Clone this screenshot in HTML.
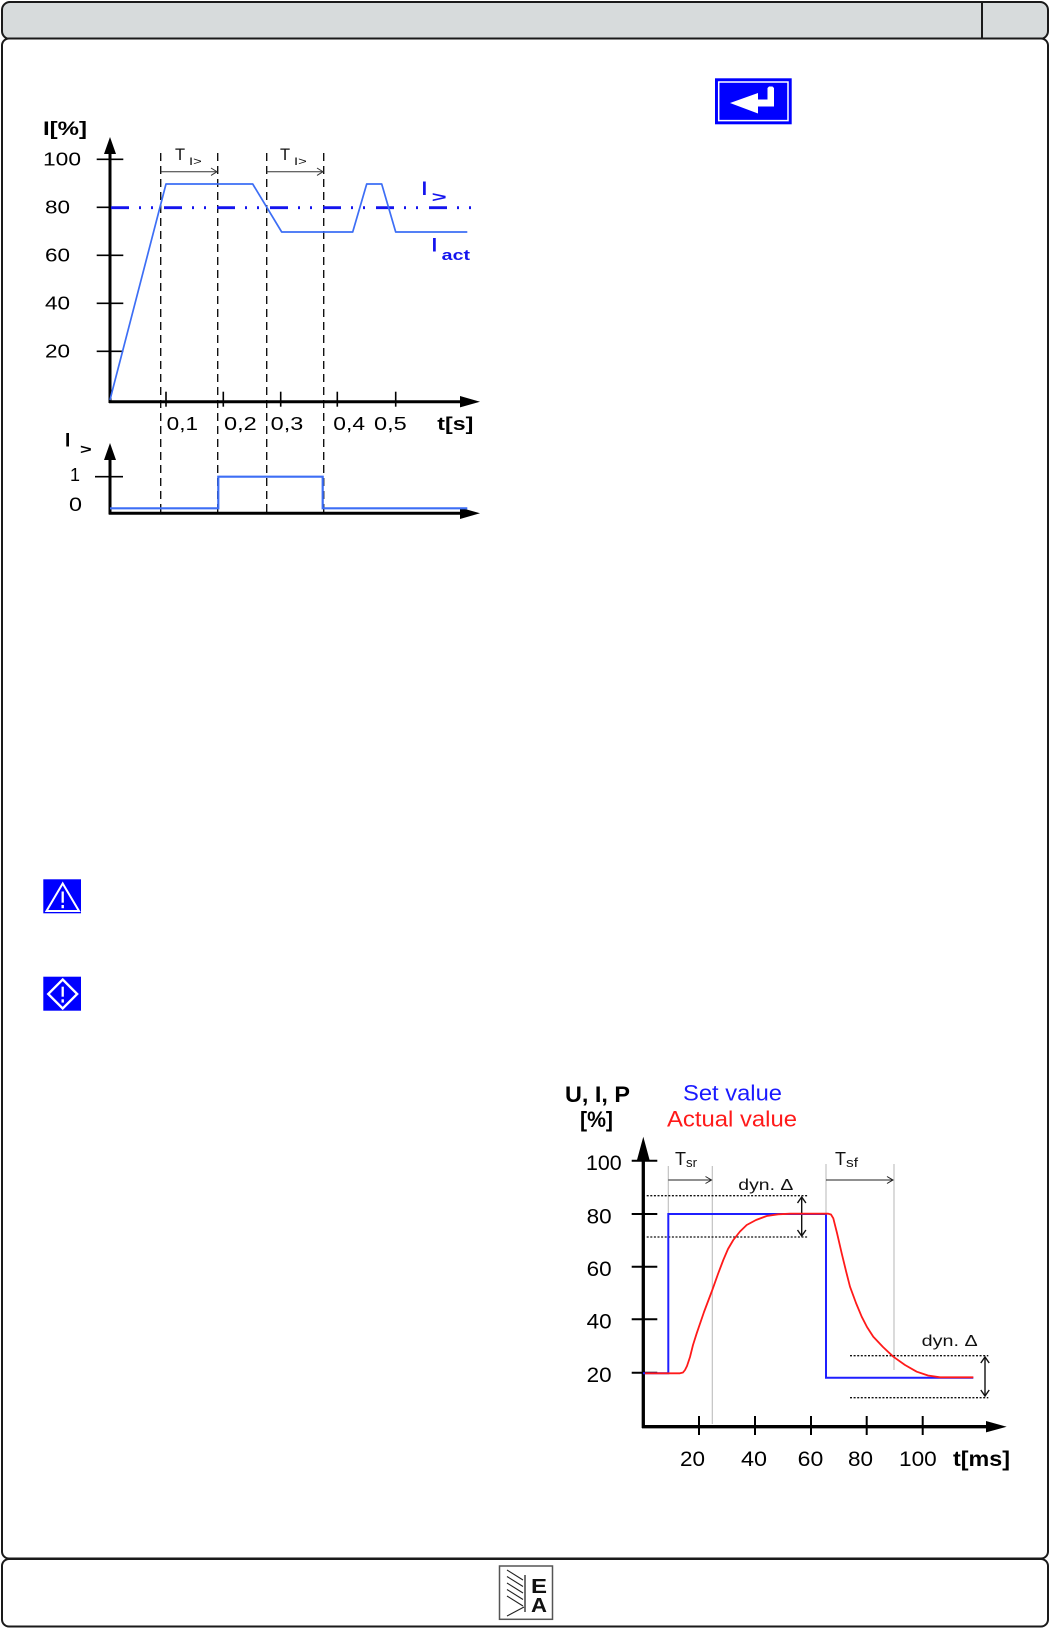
<!DOCTYPE html>
<html>
<head>
<meta charset="utf-8">
<style>
html,body{margin:0;padding:0;background:#fff;}
svg{display:block;}
text{font-family:"Liberation Sans",Arial,sans-serif;}
</style>
</head>
<body>
<svg width="1050" height="1628" viewBox="0 0 1050 1628" xmlns="http://www.w3.org/2000/svg">
  <!-- Frame -->
  <rect x="2" y="2" width="1046" height="37" rx="8" ry="8" fill="#d7dbdc" stroke="#1a1a1a" stroke-width="2"/>
  <line x1="982" y1="2" x2="982" y2="38" stroke="#1a1a1a" stroke-width="2"/>
  <rect x="2" y="38.5" width="1046" height="1520" rx="7" ry="7" fill="#fff" stroke="#1a1a1a" stroke-width="2"/>
  <rect x="2" y="1559" width="1046" height="67.5" rx="7" ry="7" fill="#fff" stroke="#1a1a1a" stroke-width="2"/>

  <!-- Enter icon -->
  <rect x="715" y="78.3" width="76.7" height="46" fill="#0000ff"/>
  <rect x="718.7" y="82" width="69.3" height="38.6" fill="none" stroke="#fff" stroke-width="1.5"/>
  <polygon points="730,103 758,93 758,99.5 767.5,99.5 767.5,88 769,86.5 772.5,86.5 774,88 774,106.5 758,106.5 758,113.5" fill="#fff"/>

  <!-- ============ Chart 1 ============ -->
  <g stroke="#111" stroke-width="1.4" stroke-dasharray="8 5">
    <line x1="160.7" y1="153" x2="160.7" y2="513"/>
    <line x1="217.7" y1="153" x2="217.7" y2="513"/>
    <line x1="266.7" y1="153" x2="266.7" y2="513"/>
    <line x1="323.7" y1="153" x2="323.7" y2="513"/>
  </g>
  <g stroke="#333" stroke-width="1" fill="none">
    <line x1="160.7" y1="171.7" x2="217" y2="171.7"/>
    <polyline points="211,168 217,171.7 211,175.4"/>
    <line x1="266.7" y1="171.7" x2="323" y2="171.7"/>
    <polyline points="317,168 323,171.7 317,175.4"/>
  </g>
  <text x="175" y="160" font-size="16.5" fill="#111">T</text>
  <text x="189" y="165" font-size="11" fill="#111" textLength="12.7" lengthAdjust="spacingAndGlyphs">I&gt;</text>
  <text x="280" y="160" font-size="16.5" fill="#111">T</text>
  <text x="294" y="165" font-size="11" fill="#111" textLength="12.7" lengthAdjust="spacingAndGlyphs">I&gt;</text>

  <g stroke="#000" stroke-width="3">
    <line x1="110" y1="152" x2="110" y2="403"/>
    <line x1="109" y1="401.7" x2="462" y2="401.7"/>
    <line x1="110" y1="458" x2="110" y2="514.5"/>
    <line x1="109" y1="513.3" x2="462" y2="513.3"/>
  </g>
  <polygon points="110,137 104,154 116,154" fill="#000"/>
  <polygon points="480,401.7 460,396 460,407.4" fill="#000"/>
  <polygon points="110,443 104,460 116,460" fill="#000"/>
  <polygon points="480,513.3 460,507.6 460,519" fill="#000"/>
  <g stroke="#000" stroke-width="1.6">
    <line x1="96.7" y1="159.3" x2="123.3" y2="159.3"/>
    <line x1="96.7" y1="207.3" x2="123.3" y2="207.3"/>
    <line x1="96.7" y1="255.3" x2="123.3" y2="255.3"/>
    <line x1="96.7" y1="303.3" x2="123.3" y2="303.3"/>
    <line x1="96.7" y1="351.3" x2="123.3" y2="351.3"/>
    <line x1="166" y1="391.7" x2="166" y2="406.7"/>
    <line x1="223.3" y1="391.7" x2="223.3" y2="406.7"/>
    <line x1="280.7" y1="391.7" x2="280.7" y2="406.7"/>
    <line x1="337.3" y1="391.7" x2="337.3" y2="406.7"/>
    <line x1="395.7" y1="391.7" x2="395.7" y2="406.7"/>
    <line x1="95" y1="476.7" x2="123" y2="476.7"/>
  </g>
  <g font-size="18.5" fill="#000">
    <text x="43" y="135" font-weight="bold" font-size="19" textLength="44" lengthAdjust="spacingAndGlyphs">I[%]</text>
    <text x="43" y="165.3" textLength="38" lengthAdjust="spacingAndGlyphs">100</text>
    <text x="45" y="213.3" textLength="25" lengthAdjust="spacingAndGlyphs">80</text>
    <text x="45" y="261.3" textLength="25" lengthAdjust="spacingAndGlyphs">60</text>
    <text x="45" y="309.3" textLength="25" lengthAdjust="spacingAndGlyphs">40</text>
    <text x="45" y="357.3" textLength="25" lengthAdjust="spacingAndGlyphs">20</text>
    <text x="166.7" y="430" textLength="31.3" lengthAdjust="spacingAndGlyphs">0,1</text>
    <text x="224" y="430" textLength="32.7" lengthAdjust="spacingAndGlyphs">0,2</text>
    <text x="270.7" y="430" textLength="32.6" lengthAdjust="spacingAndGlyphs">0,3</text>
    <text x="333.3" y="430" textLength="31.7" lengthAdjust="spacingAndGlyphs">0,4</text>
    <text x="374" y="430" textLength="32.7" lengthAdjust="spacingAndGlyphs">0,5</text>
    <text x="437.3" y="430" font-weight="bold" textLength="36" lengthAdjust="spacingAndGlyphs">t[s]</text>
    <text x="70" y="481" textLength="10" lengthAdjust="spacingAndGlyphs">1</text>
    <text x="69" y="511" font-size="19" textLength="13" lengthAdjust="spacingAndGlyphs">0</text>
    <text x="65" y="446.7" font-weight="bold" font-size="19">I</text>
    <text x="80" y="454" font-weight="bold" font-size="14" textLength="11.7" lengthAdjust="spacingAndGlyphs">&gt;</text>
  </g>

  <line x1="111" y1="207.7" x2="475" y2="207.7" stroke="#1414ee" stroke-width="2.8" stroke-dasharray="18 10 2 10 2 11"/>
  <polyline points="110,400 112,392 166,184 252.7,184 281.7,232 352.7,232 366.7,184 381.7,184 395.7,232 467.3,232" fill="none" stroke="#3d6ef5" stroke-width="1.7" stroke-linejoin="round"/>
  <polyline points="110,508.3 218.3,508.3 218.3,476.7 322.7,476.7 322.7,508.3 467.3,508.3" fill="none" stroke="#3d6ef5" stroke-width="2.2"/>
  <text x="421.7" y="195" font-weight="bold" font-size="19" fill="#1414ee">I</text>
  <text x="431.7" y="202" font-weight="bold" font-size="15" fill="#1414ee" textLength="15" lengthAdjust="spacingAndGlyphs">&gt;</text>
  <text x="431.7" y="251.7" font-weight="bold" font-size="19" fill="#1414ee">I</text>
  <text x="441.7" y="260" font-weight="bold" font-size="15" fill="#1414ee" textLength="28.3" lengthAdjust="spacingAndGlyphs">act</text>

  <!-- Warning icons -->
  <rect x="43.3" y="879.3" width="37.7" height="34" fill="#0000ff"/>
  <polygon points="62.7,883.5 46.5,911 79,911" fill="none" stroke="#fff" stroke-width="2"/>
  <line x1="62.7" y1="891.5" x2="62.7" y2="902.7" stroke="#fff" stroke-width="2.3"/>
  <rect x="61.5" y="905" width="2.4" height="3.2" fill="#fff"/>

  <rect x="43.3" y="976.7" width="37.7" height="34" fill="#0000ff"/>
  <polygon points="62.7,979.5 77.2,994 62.7,1008.5 48.2,994" fill="none" stroke="#fff" stroke-width="2.3"/>
  <line x1="62.7" y1="986.7" x2="62.7" y2="996.7" stroke="#fff" stroke-width="2.3"/>
  <rect x="61.5" y="999.3" width="2.4" height="3.3" fill="#fff"/>

  <!-- ============ Chart 2 ============ -->
  <text x="565" y="1102" font-weight="bold" font-size="22" textLength="65" lengthAdjust="spacingAndGlyphs">U, I, P</text>
  <text x="580" y="1127" font-weight="bold" font-size="22" textLength="33" lengthAdjust="spacingAndGlyphs">[%]</text>
  <text x="683" y="1100.7" font-size="22" fill="#1a1aff" textLength="99" lengthAdjust="spacingAndGlyphs">Set value</text>
  <text x="667" y="1126.7" font-size="22" fill="#ff1a1a" textLength="130" lengthAdjust="spacingAndGlyphs">Actual value</text>

  <g stroke="#bdbdbd" stroke-width="1.1">
    <line x1="668.3" y1="1166" x2="668.3" y2="1214"/>
    <line x1="712.3" y1="1166" x2="712.3" y2="1424"/>
    <line x1="826" y1="1164" x2="826" y2="1214"/>
    <line x1="894" y1="1164" x2="894" y2="1370"/>
  </g>
  <g stroke="#222" stroke-width="1" fill="none">
    <line x1="668.3" y1="1180" x2="711.5" y2="1180"/>
    <polyline points="705.5,1176.5 711.5,1180 705.5,1183.5"/>
    <line x1="826" y1="1180" x2="893" y2="1180"/>
    <polyline points="887,1176.5 893,1180 887,1183.5"/>
  </g>
  <text x="675" y="1165" font-size="18" fill="#111">T</text>
  <text x="686" y="1167" font-size="13" fill="#111" textLength="11" lengthAdjust="spacingAndGlyphs">sr</text>
  <text x="835" y="1165" font-size="18" fill="#111">T</text>
  <text x="846" y="1167" font-size="13" fill="#111" textLength="12" lengthAdjust="spacingAndGlyphs">sf</text>
  <text x="738.3" y="1190" font-size="16" fill="#111" textLength="55" lengthAdjust="spacingAndGlyphs">dyn. Δ</text>
  <text x="921.7" y="1346" font-size="16" fill="#111" textLength="56" lengthAdjust="spacingAndGlyphs">dyn. Δ</text>

  <g stroke="#111" stroke-width="1.3" stroke-dasharray="2 1.6">
    <line x1="646.7" y1="1195.7" x2="808.3" y2="1195.7"/>
    <line x1="646.7" y1="1237" x2="808.3" y2="1237"/>
    <line x1="850" y1="1355.7" x2="988.3" y2="1355.7"/>
    <line x1="850" y1="1397.7" x2="988.3" y2="1397.7"/>
  </g>
  <g stroke="#111" stroke-width="1.4" fill="none">
    <line x1="801.7" y1="1197" x2="801.7" y2="1236"/>
    <polyline points="797.5,1203 801.7,1197 805.9,1203"/>
    <polyline points="797.5,1230 801.7,1236 805.9,1230"/>
    <line x1="985" y1="1357" x2="985" y2="1396"/>
    <polyline points="980.8,1363 985,1357 989.2,1363"/>
    <polyline points="980.8,1390 985,1396 989.2,1390"/>
  </g>

  <g stroke="#000" stroke-width="3.3">
    <line x1="643.3" y1="1158" x2="643.3" y2="1428"/>
    <line x1="642" y1="1426.7" x2="988" y2="1426.7"/>
  </g>
  <polygon points="643.3,1136.7 637,1160 649.6,1160" fill="#000"/>
  <polygon points="1006.7,1426.7 986,1421 986,1432.4" fill="#000"/>
  <g stroke="#000" stroke-width="2">
    <line x1="631.7" y1="1160.7" x2="657.3" y2="1160.7"/>
    <line x1="631.7" y1="1214" x2="657.3" y2="1214"/>
    <line x1="631.7" y1="1266.7" x2="657.3" y2="1266.7"/>
    <line x1="631.7" y1="1319.3" x2="657.3" y2="1319.3"/>
    <line x1="631.7" y1="1372.7" x2="657.3" y2="1372.7"/>
    <line x1="699" y1="1416" x2="699" y2="1435"/>
    <line x1="755" y1="1416" x2="755" y2="1435"/>
    <line x1="811" y1="1416" x2="811" y2="1435"/>
    <line x1="866.7" y1="1416" x2="866.7" y2="1435"/>
    <line x1="922.7" y1="1416" x2="922.7" y2="1435"/>
  </g>
  <g font-size="21.5" fill="#000">
    <text x="586" y="1170" textLength="35.7" lengthAdjust="spacingAndGlyphs">100</text>
    <text x="586.7" y="1223.3" textLength="25" lengthAdjust="spacingAndGlyphs">80</text>
    <text x="586.7" y="1276" textLength="25" lengthAdjust="spacingAndGlyphs">60</text>
    <text x="586.7" y="1328.6" textLength="25" lengthAdjust="spacingAndGlyphs">40</text>
    <text x="586.7" y="1382" textLength="25" lengthAdjust="spacingAndGlyphs">20</text>
    <text x="680" y="1466" textLength="25" lengthAdjust="spacingAndGlyphs">20</text>
    <text x="741" y="1466" textLength="26" lengthAdjust="spacingAndGlyphs">40</text>
    <text x="797.7" y="1466" textLength="25.6" lengthAdjust="spacingAndGlyphs">60</text>
    <text x="848" y="1466" textLength="25" lengthAdjust="spacingAndGlyphs">80</text>
    <text x="899" y="1466" textLength="37.7" lengthAdjust="spacingAndGlyphs">100</text>
    <text x="953" y="1466" font-weight="bold" textLength="57" lengthAdjust="spacingAndGlyphs">t[ms]</text>
  </g>

  <path d="M643,1373.3 H668.3 V1214 H826 V1377.7 H973.3" fill="none" stroke="#1f1fff" stroke-width="2"/>
  <polyline points="645,1373.3 680,1373.3 683,1372.5 685,1370 687,1366 690,1357 693,1345 696.7,1333.3 704,1312 712.3,1290 718,1274 723.3,1260 728,1249 733.3,1240 740,1231.5 746.7,1225 756,1220 766.7,1216 778,1214.3 790,1213.7 828.3,1213.7 831,1214.5 833.3,1218.3 837,1233 841.7,1253.3 846,1271 850,1286.7 856,1303 861.7,1316.7 867,1327 873.3,1336.7 883,1347 893.3,1356.7 905,1365 916.7,1371.7 928,1375.5 940,1377.3 973.3,1377.3" fill="none" stroke="#ff1a1a" stroke-width="1.8" stroke-linejoin="round"/>

  <!-- Footer logo -->
  <rect x="499.5" y="1566" width="53" height="53.3" fill="#fff" stroke="#555" stroke-width="1.5"/>
  <line x1="525" y1="1575" x2="525" y2="1612" stroke="#222" stroke-width="1.3"/>
  <g stroke="#222" stroke-width="1.1" fill="none">
    <line x1="507" y1="1570" x2="523" y2="1580"/>
    <line x1="507" y1="1576.5" x2="523" y2="1586.5"/>
    <line x1="507" y1="1583" x2="523" y2="1593"/>
    <line x1="507" y1="1589.5" x2="523" y2="1599.5"/>
    <line x1="507" y1="1596" x2="523" y2="1606"/>
    <line x1="507" y1="1616" x2="524" y2="1607"/>
  </g>
  <text x="531" y="1593" font-weight="bold" font-size="20" fill="#111" textLength="16" lengthAdjust="spacingAndGlyphs">E</text>
  <text x="531" y="1612" font-weight="bold" font-size="20" fill="#111" textLength="16" lengthAdjust="spacingAndGlyphs">A</text>
</svg>
</body>
</html>
